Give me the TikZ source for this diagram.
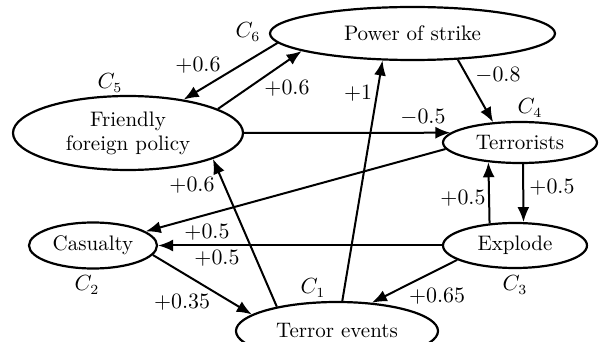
\documentclass[tikz,border=0pt]{standalone}
\usetikzlibrary{shapes.geometric,arrows.meta}
\begin{document}
\begin{tikzpicture}[x=0.5pt,y=-0.5pt,
  ell/.style={ellipse,draw,line width=1.1pt,inner sep=0pt,align=center,font=\fontsize{10.5}{12}\selectfont},
  conn/.style={line width=1pt,-{Latex[length=7.5pt,width=6pt]}},
  lbl/.style={inner sep=0pt,font=\fontsize{10.5}{12}\selectfont}]
\useasboundingbox (0,0) rectangle (601,342);
% nodes
\node[ell,minimum width=142.5pt,minimum height=26.5pt] (pw) at (412.5,33.5) {Power of strike};
\node[ell,minimum width=115pt,minimum height=37pt] (fr) at (128,133) {Friendly\\foreign policy};
\node[ell,minimum width=77pt,minimum height=20.5pt] (te) at (520,142.5) {Terrorists};
\node[ell,minimum width=64pt,minimum height=23pt] (ca) at (93,245.5) {Casualty};
\node[ell,minimum width=72pt,minimum height=22.5pt] (ex) at (515,245.5) {Explode};
\node[ell,minimum width=101pt,minimum height=29pt] (ev) at (337,331) {Terror events};
% concept labels
\node[lbl] (c6) at (248,32) {$C_6$};
\node[lbl] (c5) at (110,83) {$C_5$};
\node[lbl] (c4) at (530,108) {$C_4$};
\node[lbl] (c2) at (87,285) {$C_2$};
\node[lbl] (c1) at (313,288) {$C_1$};
\node[lbl] (c3) at (515,285) {$C_3$};
% connectors
\draw[conn] (pw.184) -- (fr.31.5);
\draw[conn] (fr.15.5) -- (pw.189);
\draw[conn] (fr.0) -- (te.172);
\draw[conn] (pw.330) -- (te.143);
\draw[conn] (ev.80.2) -- (pw.222);
\draw[conn] (ev.158.3) -- (fr.343);
\draw[conn] (te.185) -- (ca.15.5);
\draw[conn] (ex.180) -- (ca.0);
\draw[conn] (ca.351) -- (ev.169);
\draw[conn] (ex.194) -- (ev.39.7);
\draw[conn] (ex.139.8) -- (te.212.2);
\draw[conn] (te.278.3) -- (ex.70.3);
% weights
\node[lbl] (w1) at (198,65) {$+0.6$};
\node[lbl] (w2) at (287,88) {$+0.6$};
\node[lbl] (w3) at (358,93) {$+1$};
\node[lbl] (w4) at (498,75) {$-0.8$};
\node[lbl] (w5) at (423,117) {$-0.5$};
\node[lbl] (w6) at (192,185) {$+0.6$};
\node[lbl] (w7) at (207,232) {$+0.5$};
\node[lbl] (w8) at (217,258) {$+0.5$};
\node[lbl] (w9) at (182,302) {$+0.35$};
\node[lbl] (w10) at (437,296) {$+0.65$};
\node[lbl] (w11) at (463,198) {$+0.5$};
\node[lbl] (w12) at (552,187) {$+0.5$};
\end{tikzpicture}
\end{document}
